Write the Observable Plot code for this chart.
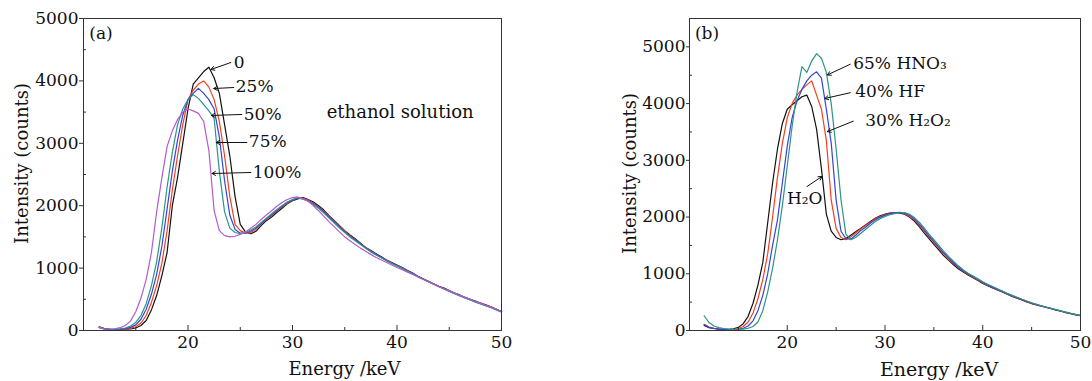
<!DOCTYPE html>
<html><head><meta charset="utf-8">
<script src="https://cdn.jsdelivr.net/npm/d3@7"></script>
<script src="https://cdn.jsdelivr.net/npm/@observablehq/plot@0.6"></script>
<style>
body{margin:0;background:#fff;}
#wrap{position:relative;width:1092px;height:381px;overflow:hidden;background:#fff;}
#wrap svg{position:absolute;top:0;overflow:visible;}
</style></head><body><div id="wrap"></div>
<script>
// Energy grid (keV)
const energy = [11.5,12,12.5,13,13.5,14,14.5,15,15.5,16,16.5,17,17.5,18,18.5,19,19.5,20,20.5,21,21.5,22,22.5,23,23.5,24,24.5,25,25.5,26,26.5,27,27.5,28,28.5,29,29.5,30,30.5,31,31.5,32,32.5,33,33.5,34,34.5,35,35.5,36,36.5,37,37.5,38,38.5,39,39.5,40,40.5,41,41.5,42,42.5,43,43.5,44,44.5,45,45.5,46,46.5,47,47.5,48,48.5,49,49.5,50];

// Panel (a): ethanol solution
const a0 = [60,30,20,15,15,20,25,40,80,160, 330,560,880,1250,2000,2450,3000,3550,3950,4050, 4150,4220,4050,3800,3300,2800,2150,1700,1580,1550, 1590,1680,1760,1820,1890,1960,2030,2080,2110,2130, 2100,2060,2000,1930,1840,1760,1680,1600,1530,1470, 1400,1330,1280,1230,1180,1130,1090,1050,1010,960, 920,870,830,790,750,710,680,640,600,570, 530,500,470,440,410,380,340,300];
const a25 = [55,28,18,15,18,22,35,60,120,240, 450,720,1080,1600,2250,2800,3300,3700,3850,3950, 4000,3900,3700,3350,2800,2150,1700,1600,1560,1570, 1620,1700,1780,1840,1910,1980,2040,2090,2120,2120, 2090,2040,1980,1910,1830,1750,1670,1590,1520,1460, 1390,1330,1270,1220,1170,1130,1080,1040,1000,960, 910,870,820,780,745,710,670,635,600,565, 530,495,465,435,405,375,345,305];
const a50 = [50,25,18,18,22,30,50,90,180,340, 580,900,1350,1950,2550,3050,3450,3700,3800,3880, 3800,3700,3550,3100,2400,1850,1620,1560,1560,1590, 1640,1710,1790,1850,1920,1990,2050,2090,2120,2110, 2080,2030,1970,1900,1820,1740,1660,1580,1510,1450, 1390,1320,1270,1220,1170,1120,1080,1040,1000,955, 915,865,825,785,745,705,670,630,595,560, 525,495,460,430,400,370,335,300];
const a75 = [50,25,20,22,28,40,70,130,240,430, 720,1100,1650,2300,2850,3300,3550,3700,3780,3720, 3620,3520,3400,2550,1900,1640,1570,1550,1570,1610, 1660,1730,1800,1870,1940,2000,2060,2100,2130,2110, 2070,2020,1960,1880,1800,1720,1640,1570,1500,1440, 1380,1320,1260,1210,1165,1120,1075,1035,995,950, 910,860,820,780,740,700,665,625,590,555, 520,490,455,425,395,365,330,295];
const a100 = [45,25,22,28,45,80,150,300,520,820, 1250,1900,2450,2950,3200,3380,3500,3550,3520,3480, 3350,2880,1920,1600,1520,1500,1510,1540,1580,1640, 1700,1780,1850,1920,1990,2050,2100,2130,2140,2110, 2070,2000,1920,1830,1740,1660,1580,1500,1440,1380, 1320,1270,1220,1170,1130,1090,1050,1010,975,935, 900,860,820,780,745,705,670,635,600,565, 530,500,465,435,405,375,340,305];

// Panel (b): acids / water
const bH2O = [90,50,35,25,20,20,30,55,120,250, 480,800,1200,1900,2600,3200,3650,3900,3980,4050, 4120,4150,3950,3550,2850,2050,1750,1640,1600,1620, 1680,1740,1800,1860,1920,1980,2020,2050,2070,2080, 2070,2050,2000,1930,1830,1720,1620,1520,1420,1320, 1240,1160,1090,1030,980,930,880,830,790,750, 715,680,640,600,570,540,505,475,450,430, 405,385,360,340,315,295,275,260];
const bH2O2 = [110,60,40,28,22,18,20,35,70,150, 310,560,900,1350,2000,2700,3300,3750,4000,4150, 4250,4330,4400,4150,3900,3350,2300,1800,1640,1600, 1650,1720,1790,1850,1910,1970,2010,2040,2070,2080, 2080,2060,2010,1950,1860,1750,1650,1550,1450,1350, 1260,1180,1110,1045,990,940,890,840,800,760, 720,685,645,610,575,545,510,480,455,430, 410,385,365,340,320,300,280,262];
const bHF = [100,55,35,25,20,15,15,22,40,80, 170,350,620,1000,1500,1950,2600,3250,3750,4050, 4250,4400,4500,4560,4450,3900,3300,2300,1750,1620, 1610,1680,1760,1820,1890,1950,1995,2030,2060,2075, 2085,2070,2030,1970,1880,1780,1670,1570,1470,1370, 1280,1195,1120,1055,1000,950,900,850,805,765, 725,690,650,615,580,548,515,485,458,432, 410,388,366,344,322,300,282,264];
const bHNO3 = [260,140,80,50,35,25,18,18,25,40, 70,150,350,680,1100,1600,2200,2900,3600,4200, 4650,4550,4750,4880,4800,4550,4000,3200,2300,1700, 1600,1640,1710,1780,1850,1920,1970,2010,2040,2060, 2075,2080,2050,1990,1910,1810,1700,1600,1500,1400, 1305,1220,1140,1070,1010,960,910,860,815,775, 735,695,655,620,585,550,520,490,462,436, 412,390,368,346,324,304,284,266];

const seriesA = ["0","25%","50%","75%","100%"];
const seriesB = ["H2O","30% H2O2","40% HF","65% HNO3"];

// Tick values
const xTicks = [20,30,40,50];
const xMinor = [15,25,35,45];
const yTicks = [0,1000,2000,3000,4000,5000];
const yMinor = [500,1500,2500,3500,4500];

// Annotations: label, text anchor (E, I), arrow from (E, I) to (E, I)
const annA = [
  {t:"0",    x:24.38, y:4295, x1:24.10, y1:4295, x2:22.20, y2:4183},
  {t:"25%",  x:24.57, y:3910, x1:24.38, y1:3894, x2:22.46, y2:3878},
  {t:"50%",  x:25.34, y:3454, x1:25.15, y1:3462, x2:22.24, y2:3446},
  {t:"75%",  x:25.82, y:3029, x1:25.63, y1:3013, x2:22.70, y2:3013},
  {t:"100%", x:26.20, y:2524, x1:26.01, y1:2532, x2:22.30, y2:2516}
];
const annB = [
  {t:"65% HNO\u2083",        x:26.75, y:4711, x1:26.45, y1:4694, x2:24.10, y2:4505},
  {t:"40% HF",               x:26.96, y:4215, x1:26.45, y1:4192, x2:23.85, y2:4090},
  {t:"30% H\u2082O\u2082",   x:27.98, y:3700, x1:26.75, y1:3690, x2:24.10, y2:3505},
  {t:"H\u2082O",             x:19.97, y:2320, x1:22.02, y1:2538, x2:23.55, y2:2715}
];

const colorsA = ["#111111","#f2401c","#3344d8","#2a9488","#b35ccc"];
const colorsB = ["#111111","#f2401c","#3344d8","#2a9488"];
const FONT = "DejaVu Serif";

function rows(arr){ return energy.map((e,i)=>({E:e, I:arr[i]})); }

function panel(opts){
  const {arrays, colors, yDomain, left, marginLeft, marginRight, ann, tag, tagPos, note,
         yLabelDx, yLabelDy, xLabelDx, xLabelSize, yLabelSize, yTickSize} = opts;
  const marks = [];
  arrays.forEach((arr,k)=>{
    marks.push(Plot.line(rows(arr), {x:"E", y:"I", stroke: colors[k], strokeWidth: 1.2}));
  });
  marks.push(Plot.frame({stroke:"#333", strokeWidth:1}));
  marks.push(Plot.axisX(xTicks, {tickSize:0, tickPadding:5, fontSize:17, label:null, fill:"#111", tickFormat:d=>String(d)}));
  marks.push(Plot.axisX(xTicks, {tickSize:-5, tickFormat:()=>"", label:null, stroke:"#333"}));
  marks.push(Plot.axisX(xMinor, {tickSize:-3, tickFormat:()=>"", label:null, stroke:"#333"}));
  marks.push(Plot.axisY(yTicks, {tickSize:yTickSize, tickPadding:1, fontSize:17, label:null, fill:"#111", stroke:"#333", tickFormat:d=>String(d)}));
  marks.push(Plot.axisY(yMinor, {tickSize:-3, tickFormat:()=>"", label:null, stroke:"#333"}));
  marks.push(Plot.arrow(ann, {x1:"x1", y1:"y1", x2:"x2", y2:"y2", stroke:"#111", strokeWidth:1, headLength:6}));
  marks.push(Plot.text(ann, {x:"x", y:"y", text:"t", textAnchor:"start", lineAnchor:"middle", fontSize:17, fill:"#111"}));
  marks.push(Plot.text([tag], {x:()=>tagPos[0], y:()=>tagPos[1], text:d=>d, textAnchor:"start", lineAnchor:"middle", fontSize:17, fill:"#111"}));
  if (note) marks.push(Plot.text([note.t], {x:()=>note.x, y:()=>note.y, text:d=>d, textAnchor:"start", lineAnchor:"middle", fontSize:18, fill:"#111"}));
  marks.push(Plot.text(["Energy /keV"], {text:d=>d, frameAnchor:"bottom", textAnchor:"middle", dy:39, dx:xLabelDx, lineAnchor:"middle", fontSize:xLabelSize, fill:"#111"}));
  marks.push(Plot.text(["Intensity (counts)"], {text:d=>d, frameAnchor:"left", textAnchor:"middle", rotate:-90, dx:yLabelDx, dy:yLabelDy, lineAnchor:"middle", fontSize:yLabelSize, fill:"#111"}));
  const svg = Plot.plot({
    width: 546, height: 381,
    marginLeft, marginRight, marginTop: 18, marginBottom: 51,
    style: {fontFamily: FONT, fontSize: "17px", color: "#111", background: "transparent"},
    x: {domain: [10, 50]},
    y: {domain: yDomain},
    marks
  });
  svg.style.left = left + "px";
  return svg;
}

const wrap = document.getElementById("wrap");
wrap.appendChild(panel({
  arrays: [a0,a25,a50,a75,a100], colors: colorsA, yDomain: [0,5000], left: 0,
  marginLeft: 83, marginRight: 45, ann: annA, tag: "(a)", tagPos: [10.55, 4760],
  note: {t:"ethanol solution", x:33.27, y:3500},
  yLabelDx: -61, yLabelDy: -11, xLabelDx: 52, xLabelSize: 18, yLabelSize: 18, yTickSize: 4
}));
wrap.appendChild(panel({
  arrays: [bH2O,bH2O2,bHF,bHNO3], colors: colorsB, yDomain: [0,5500], left: 546,
  marginLeft: 143, marginRight: 12, ann: annB, tag: "(b)", tagPos: [10.55, 5240],
  note: null,
  yLabelDx: -59, yLabelDy: -1, xLabelDx: 54, xLabelSize: 19, yLabelSize: 18, yTickSize: 3
}));
</script>
</body></html>
